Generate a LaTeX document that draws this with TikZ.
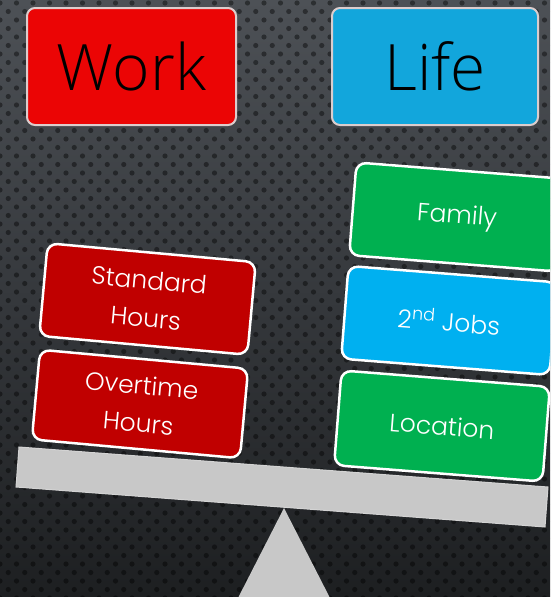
\documentclass[tikz,border=0pt]{standalone}
\usepackage{fontspec}
\usepackage{xcolor}
\usepackage{tikz}
\IfFontExistsTF{Poppins Light}{\setmainfont{Poppins Light}}{\setmainfont{Poppins}}
\IfFontExistsTF{Open Sans Light}{\newfontfamily\headfont{Open Sans Light}}{\newfontfamily\headfont{Open Sans}}

\definecolor{bgtop}{HTML}{4D5156}
\definecolor{bgmid}{HTML}{35383C}
\definecolor{bgbot}{HTML}{1D1F21}
\definecolor{workred}{HTML}{EB0505}
\definecolor{lifeblue}{HTML}{12A6DC}
\definecolor{headline}{HTML}{DCCDCD}
\definecolor{darkred}{HTML}{C00000}
\definecolor{green}{HTML}{00B050}
\definecolor{skyblue}{HTML}{00B0F0}
\definecolor{beamgray}{HTML}{C8C8C8}

\tikzset{
	header/.style={shape=rectangle,rounded corners=8pt,draw=headline,line width=2pt,minimum width=209pt,minimum height=117pt,font=\headfont\fontsize{64}{64}\selectfont,text=black},
	block/.style={shape=rectangle,rounded corners=10pt,draw=white,line width=2.5pt,minimum width=209pt,minimum height=93pt,align=center,text=white,font=\fontsize{25}{38}\selectfont},
	dot/.style={fill=black,opacity=0.42},
	beam/.style={fill=beamgray,draw=beamgray!80!white,line width=1pt},
}

\begin{document}
\begin{tikzpicture}[x=1pt,y=-1pt]
	\useasboundingbox (0,0) rectangle (550,597);
	\clip (0,0) rectangle (550,597);
	\shade[top color=bgtop,bottom color=bgbot,middle color=bgmid] (0,0) rectangle (550,597);
	\foreach \r in {0,...,70}
		\foreach \c in {0,...,34}
			\fill[dot] ({\c*16.5+mod(\r,2)*8.25},{\r*8.5+3}) circle (2.6);

	\node[header,fill=workred] (work) at (131.5, 66.5) {Work};
	\node[header,fill=lifeblue,minimum width=206pt] (life) at (435, 66.5) {Life};

	\node[block,fill=darkred,rotate=-5.2] (standard) at (147.5, 299) {Standard\\Hours};
	\node[block,fill=darkred,rotate=-5.2,minimum height=90pt] (overtime) at (140, 404) {Overtime\\Hours};

	\node[block,fill=green,rotate=-4.5] (family) at (457, 217) {Family};
	\node[block,fill=skyblue,rotate=-4.5] (jobs) at (449, 320.5) {2\textsuperscript{nd} Jobs};
	\node[block,fill=green,rotate=-4.5,minimum height=95pt] (location) at (442, 426) {Location};

	\coordinate (apex) at (284, 508);
	\fill[beamgray] (apex) -- (238, 598) -- (330, 598) -- cycle;
	\path[beam] (19, 447) -- (548, 487) -- (545, 527) -- (16, 487) -- cycle;
\end{tikzpicture}
\end{document}
